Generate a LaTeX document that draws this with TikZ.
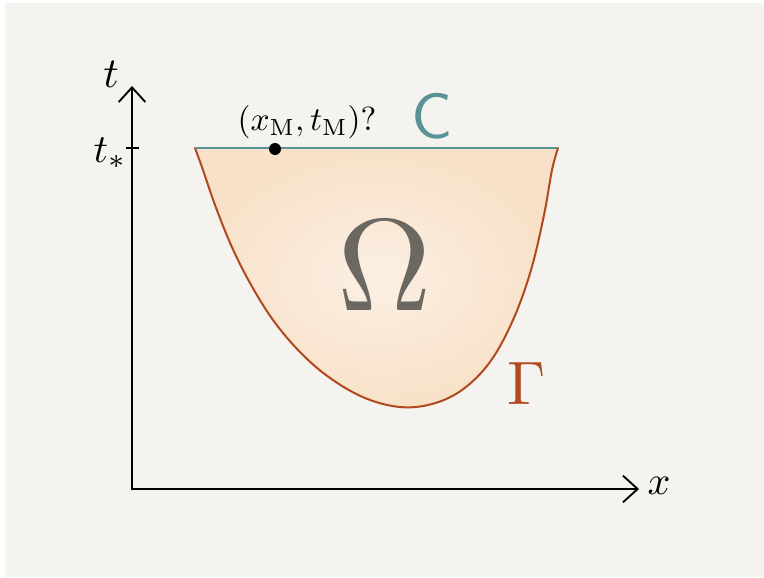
\documentclass[tikz,border=0pt]{standalone}
\usetikzlibrary{arrows.meta}
\definecolor{bgpaper}{HTML}{F4F3EF}
\definecolor{peachout}{HTML}{F8E1C8}
\definecolor{peachin}{HTML}{FBEFE3}
\definecolor{gammacol}{HTML}{B04A1E}
\definecolor{ccol}{HTML}{5A9396}
\definecolor{omegacol}{HTML}{6B6862}
\begin{document}
\begin{tikzpicture}[x=0.75pt,y=-0.75pt,
  axisline/.style={line width=1.6pt,black,line cap=round},
  axtip/.style={-{Straight Barb[length=11pt,width=20pt,line width=1.4pt]}},
  bound/.style={line width=1.5pt,gammacol,line cap=round},
  topline/.style={line width=1.1pt,ccol},
  lbl/.style={inner sep=0pt,black}]
\useasboundingbox (0,0) rectangle (764,578);
\fill[white] (0,0) rectangle (764,578);
\fill[bgpaper] (5,3) rectangle (764,577);
% region
\shade[inner color=peachin,outer color=peachout]
  plot[smooth,tension=0.6] coordinates {(195,148) (203,170) (215,205) (231,245) (250,283) (273,320) (300,352) (330,378) (365,398) (400,407) (432,404) (462,390) (490,362) (513,320) (531,270) (544,215) (552,170) (558,148)} -- cycle;
\draw[bound]
  plot[smooth,tension=0.6] coordinates {(195,148) (203,170) (215,205) (231,245) (250,283) (273,320) (300,352) (330,378) (365,398) (400,407) (432,404) (462,390) (490,362) (513,320) (531,270) (544,215) (552,170) (558,148)};
\coordinate (cl) at (195,148);
\coordinate (cr) at (558,148);
\draw[topline] (cl) -- (cr);
% axes
\coordinate (O) at (132,489);
\coordinate (ytop) at (132,86);
\coordinate (xend) at (639,489);
\draw[axisline,axtip] (O) -- (ytop);
\draw[axisline,axtip] (O) -- (xend);
\coordinate (tk1) at (126,148);
\coordinate (tk2) at (139,148);
\draw[line width=1.4pt] (tk1) -- (tk2);
% labels
\node[lbl,scale=3.2] (tlab) at (111,74) {$t$};
\node[lbl,scale=3.0] (xlab) at (659,486) {$x$};
\node[lbl,scale=3.0] (tstar) at (110,153) {$t_{*}$};
\node[circle,fill=black,inner sep=0pt,minimum size=9pt] (M) at (275,149) {};
\node[lbl,scale=2.5] (mlab) at (307,122) {$(x_{\mathrm{M}},t_{\mathrm{M}})$?};
\node[lbl,text=ccol,scale=4.8,font=\sffamily] (Clab) at (432,116) {C};
\node[lbl,text=omegacol,scale=9.8] (Om) at (385,266) {$\Omega$};
\node[lbl,text=gammacol,scale=4.6] (Gam) at (527,384) {$\Gamma$};
\end{tikzpicture}
\end{document}
